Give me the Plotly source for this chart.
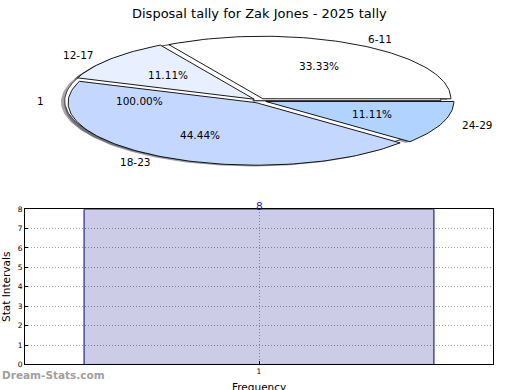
import numpy as np
import plotly.graph_objects as go

# ---------------- data ----------------
title = "Disposal tally for Zak Jones - 2025 tally"
ranges = ["6-11", "12-17", "18-23", "24-29"]
games = [3, 1, 4, 1]
slice_colors = ["#ffffff", "#e8f0ff", "#c4d8ff", "#b0d4ff"]
ghost_labels = ["1"]
ghost_values = [1]
freq_ticks = ["1"]
freq_x = [1]
freq_counts = [8]

# ---------------- geometry (pie drawn on squashed axes) ----------------
FONT = "DejaVu Sans"
W, H = 520, 390
CX, CY, RX, RY = 259.5, 99.0, 188.0, 64.0
EXPLODE = 0.036
SHADOW = (-0.02, -0.02)

def wedge(t1, t2, ox, oy):
    th = np.radians(np.linspace(t1, t2, int(abs(t2 - t1) / 1.5) + 3))
    xs = np.concatenate([[ox], ox + np.cos(th), [ox]])
    ys = np.concatenate([[oy], oy + np.sin(th), [oy]])
    return xs, ys

def shade(hexcol):
    h = hexcol.lstrip("#")
    r, g, b = (int(h[i:i + 2], 16) for i in (0, 2, 4))
    return f"rgba({int(r*0.3)},{int(g*0.3)},{int(b*0.3)},0.5)"

def pie_layout(values, start=0.0):
    total = float(sum(values))
    out = []
    a = start
    for v in values:
        span = 360.0 * v / total
        mid = np.radians(a + span / 2)
        ox, oy = EXPLODE * np.cos(mid), EXPLODE * np.sin(mid)
        out.append((a, a + span, ox, oy, mid, 100.0 * v / total))
        a += span
    return out

main = pie_layout(games)
ghost = pie_layout(ghost_values)

fig = go.Figure()

# shadows
for (t1, t2, ox, oy, mid, pct), col in list(zip(ghost, ["#ffffff"])) + list(zip(main, slice_colors)):
    xs, ys = wedge(t1, t2, ox + SHADOW[0], oy + SHADOW[1])
    fig.add_trace(go.Scatter(x=xs, y=ys, xaxis="x2", yaxis="y2", mode="lines",
                             fill="toself", fillcolor=shade(col),
                             line=dict(width=0), hoverinfo="skip", showlegend=False))
# ghost wedge
for (t1, t2, ox, oy, mid, pct) in ghost:
    xs, ys = wedge(t1, t2, ox, oy)
    fig.add_trace(go.Scatter(x=xs, y=ys, xaxis="x2", yaxis="y2", mode="lines",
                             fill="toself", fillcolor="#ffffff",
                             line=dict(color="#333333", width=0.9), hoverinfo="skip", showlegend=False))
# main wedges
for (t1, t2, ox, oy, mid, pct), col in zip(main, slice_colors):
    xs, ys = wedge(t1, t2, ox, oy)
    fig.add_trace(go.Scatter(x=xs, y=ys, xaxis="x2", yaxis="y2", mode="lines",
                             fill="toself", fillcolor=col,
                             line=dict(color="#000000", width=0.9), hoverinfo="skip", showlegend=False))

annotations = []
for labels, lay in ((ranges, main), (ghost_labels, ghost)):
    for lab, (t1, t2, ox, oy, mid, pct) in zip(labels, lay):
        lx, ly = ox + 1.1 * np.cos(mid), oy + 1.1 * np.sin(mid)
        annotations.append(dict(x=lx, y=ly, xref="x2", yref="y2", text=lab, showarrow=False,
                                xanchor="left" if lx > 0 else "right", yanchor="middle",
                                font=dict(family=FONT, size=10.5, color="#000000")))
        px, py = ox + 0.6 * np.cos(mid), oy + 0.6 * np.sin(mid)
        annotations.append(dict(x=px, y=py, xref="x2", yref="y2", text=f"{pct:.2f}%", showarrow=False,
                                xanchor="center", yanchor="middle",
                                font=dict(family=FONT, size=10.5, color="#000000")))

# ---------------- bar chart ----------------
fig.add_trace(go.Bar(x=freq_x, y=freq_counts, width=0.8, xaxis="x", yaxis="y",
                     marker=dict(color="rgba(0,0,128,0.2)", line=dict(color="#000080", width=1)),
                     hoverinfo="skip", showlegend=False))
for xv, yv in zip(freq_x, freq_counts):
    annotations.append(dict(x=xv, y=yv, xref="x", yref="y", text=str(yv), showarrow=False,
                            xanchor="center", yanchor="middle", yshift=3,
                            font=dict(family=FONT, size=10.5, color="#1a1a9a")))

annotations.append(dict(x=(25 + 493) / 2 / W, y=(H - 384) / H, xref="paper", yref="paper",
                        text="Frequency", showarrow=False, xanchor="center", yanchor="top",
                        font=dict(family=FONT, size=10.5, color="#000000")))
annotations.append(dict(x=0, y=(H - 380) / H, xref="paper", yref="paper",
                        text="Dream-Stats.com", showarrow=False, xanchor="left", yanchor="middle",
                        font=dict(family=FONT, size=10.5, color="#a0a0a0", weight="bold")))
annotations.append(dict(x=(25 + 493) / 2 / W, y=(H - 10) / H, xref="paper", yref="paper",
                        text=title, showarrow=False, xanchor="center", yanchor="middle",
                        font=dict(family=FONT, size=13, color="#000000")))

grid_common = dict(showgrid=True, gridcolor="#a0a0a0", griddash="1px,2px", gridwidth=1,
                   showline=True, linecolor="#000000", linewidth=1, mirror=True,
                   ticks="inside", ticklen=3, tickcolor="#000000", zeroline=False,
                   tickfont=dict(family=FONT, size=7.5, color="#000000"))

fig.update_layout(
    width=W, height=H, autosize=False,
    margin=dict(l=0, r=0, t=0, b=0),
    paper_bgcolor="#ffffff", plot_bgcolor="#ffffff",
    showlegend=False,
    annotations=annotations,
    xaxis2=dict(domain=[0, 1], range=[-CX / RX, (W - CX) / RX], visible=False,
                anchor="y2", fixedrange=True),
    yaxis2=dict(domain=[(H - 185) / H, (H - 15) / H], range=[(CY - 185) / RY, (CY - 15) / RY],
                visible=False, anchor="x2", fixedrange=True),
    xaxis=dict(domain=[25 / W, 493 / W], range=[0.465, 1.535], anchor="y", fixedrange=True,
               tickmode="array", tickvals=freq_x, ticktext=freq_ticks, **grid_common),
    yaxis=dict(domain=[(H - 369) / H, (H - 210) / H], range=[0, 8], anchor="x", fixedrange=True,
               tickmode="linear", tick0=0, dtick=1,
               title=dict(text="Stat Intervals", standoff=8,
                          font=dict(family=FONT, size=10.5, color="#000000")),
               **grid_common),
)

fig.write_html("out.html", config={"displayModeBar": False, "staticPlot": True},
               post_script="document.body.style.margin='0';document.body.style.padding='0';")
